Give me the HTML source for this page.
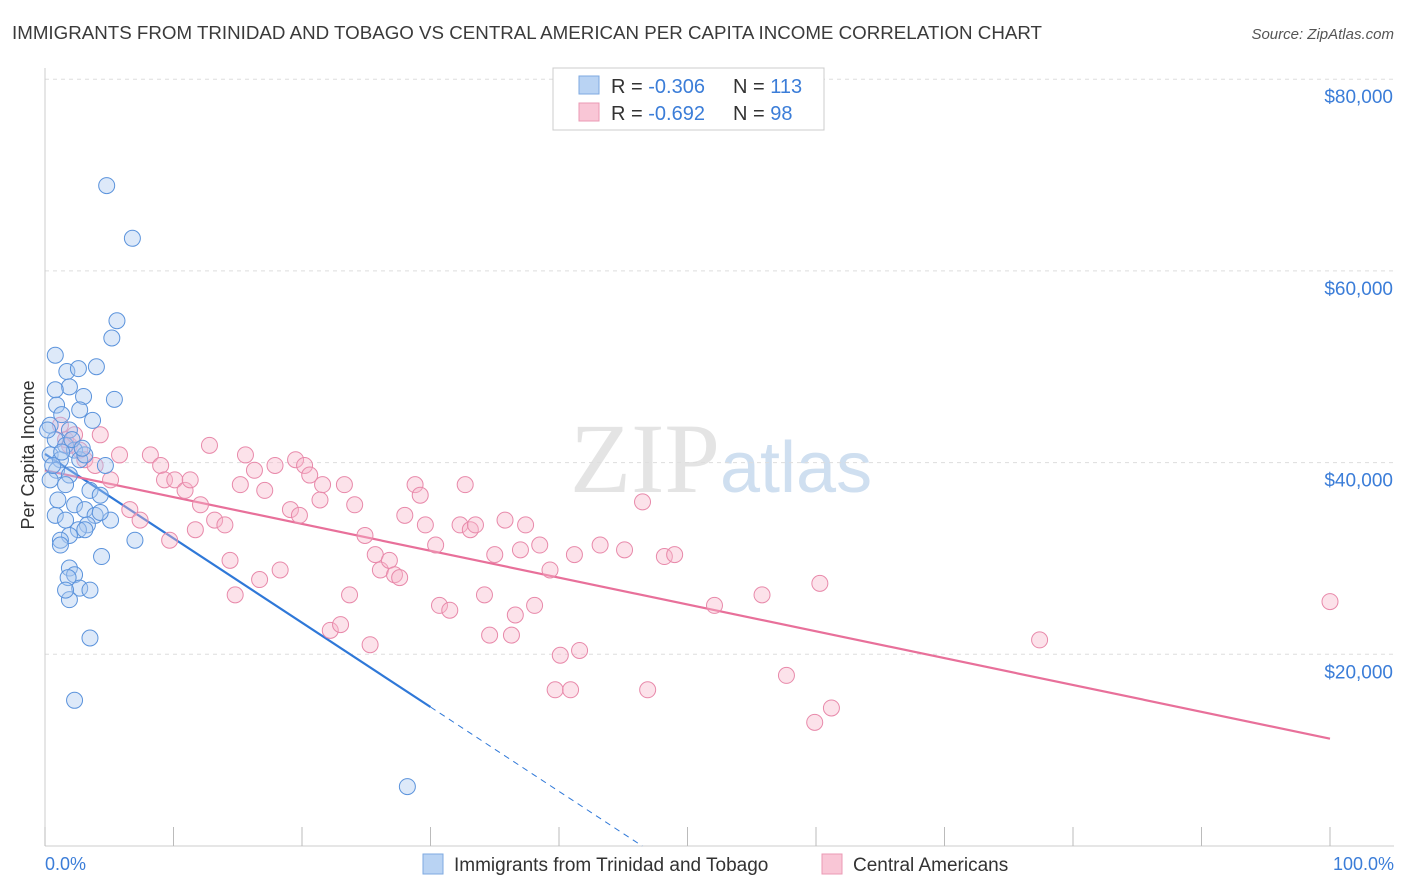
<!DOCTYPE html>
<html><head><meta charset="utf-8">
<style>
body{margin:0;background:#fff;font-family:"Liberation Sans",sans-serif;}
#wrap{position:relative;width:1406px;height:892px;overflow:hidden;}
</style></head>
<body>
<div id="wrap">
<svg id="chart" width="1406" height="892" xmlns="http://www.w3.org/2000/svg">
<text x="12" y="39" font-size="18" fill="#3a3a3a" textLength="1030" lengthAdjust="spacingAndGlyphs">IMMIGRANTS FROM TRINIDAD AND TOBAGO VS CENTRAL AMERICAN PER CAPITA INCOME CORRELATION CHART</text>
<text x="1394" y="39" font-size="15" fill="#555" font-style="italic" text-anchor="end">Source: ZipAtlas.com</text>
<text x="720" y="492" font-size="100" fill="#e4e4e4" text-anchor="end" font-family="Liberation Serif,serif">ZIP</text>
<text x="720" y="492" font-size="72" fill="#cfdff0">atlas</text>
<g id="grid"></g><g id="axes"></g><g id="trends"></g><g id="points"></g>
<text x="34" y="455" font-size="18" fill="#333" text-anchor="middle" transform="rotate(-90 34 455)">Per Capita Income</text>
<text x="45" y="870" font-size="18" fill="#3b7dd8">0.0%</text>
<text x="1394" y="870" font-size="18" fill="#3b7dd8" text-anchor="end">100.0%</text>
<g>
<rect x="553" y="68" width="271" height="62" fill="#fff" stroke="#ccc"/>
<rect x="579" y="76" width="20" height="18" fill="#b9d3f3" stroke="#7ea9e0"/>
<rect x="579" y="103" width="20" height="18" fill="#f9c6d6" stroke="#eb9ab4"/>
<text x="611" y="93" font-size="20" fill="#333">R = <tspan fill="#3b7dd8">-0.306</tspan><tspan x="733">N = </tspan><tspan fill="#3b7dd8">113</tspan></text>
<text x="611" y="120" font-size="20" fill="#333">R = <tspan fill="#3b7dd8">-0.692</tspan><tspan x="733">N = </tspan><tspan fill="#3b7dd8"> 98</tspan></text>
</g>
<g>
<rect x="423" y="854" width="20" height="20" fill="#b9d3f3" stroke="#7ea9e0"/>
<text x="454" y="871" font-size="19" fill="#333">Immigrants from Trinidad and Tobago</text>
<rect x="822" y="854" width="20" height="20" fill="#f9c6d6" stroke="#eb9ab4"/>
<text x="853" y="871" font-size="19" fill="#333">Central Americans</text>
</g>
</svg>
</div>
<script>
const yTicks=[20,40,60,80];
const yTickLabels=["$20,000","$40,000","$60,000","$80,000"];
const xTickVals=[0,10,20,30,40,50,60,70,80,90,100];
const blueX=[4.8,6.8,5.6,5.2,0.8,4.0,1.7,2.6,5.4,1.9,3.0,0.8,2.7,3.7,0.9,1.3,0.4,1.9,0.8,1.6,2.3,0.4,1.2,2.7,3.1,4.7,0.9,1.9,0.4,1.6,3.5,4.3,1.0,2.3,3.1,3.9,0.8,1.6,5.1,3.3,2.6,1.9,1.2,4.3,7.0,4.4,1.9,2.3,1.8,2.7,3.5,1.9,3.5,2.3,28.2,0.2,0.6,1.3,2.1,2.9,1.2,3.1,1.6];
const blueY=[68.9,63.4,54.8,53.0,51.2,50.0,49.5,49.8,46.6,47.9,46.9,47.6,45.5,44.4,46.0,45.0,43.9,43.4,42.4,41.8,41.3,40.8,40.3,40.3,40.8,39.7,39.2,38.7,38.2,37.7,37.1,36.6,36.1,35.6,35.1,34.5,34.5,34.0,34.0,33.5,33.0,32.4,31.9,34.8,31.9,30.2,29.0,28.3,28.0,26.9,26.7,25.7,21.7,15.2,6.2,43.4,39.7,41.1,42.4,41.5,31.4,33.0,26.7];
const pinkX=[1.2,1.6,1.9,2.3,2.7,3.1,3.9,4.3,5.1,5.8,6.6,7.4,8.2,9.0,9.3,9.7,10.1,10.9,11.3,11.7,12.1,12.8,13.2,14.0,14.4,14.8,15.2,15.6,16.3,16.7,17.1,17.9,18.3,19.1,19.5,19.8,20.2,20.6,21.4,21.6,22.2,23.0,23.3,23.7,24.1,24.9,25.3,25.7,26.1,26.8,27.2,27.6,28.0,28.8,29.2,29.6,30.4,30.7,31.5,32.3,32.7,33.1,33.5,34.2,34.6,35.0,35.8,36.3,36.6,37.0,37.4,38.1,38.5,39.3,39.7,40.1,40.9,41.2,41.6,43.2,45.1,46.5,46.9,48.2,49.0,52.1,55.8,57.7,59.9,60.3,61.2,77.4,100];
const pinkY=[43.9,42.4,41.8,42.9,41.3,40.3,39.7,42.9,38.2,40.8,35.1,34.0,40.8,39.7,38.2,31.9,38.2,37.1,38.2,33.0,35.6,41.8,34.0,33.5,29.8,26.2,37.7,40.8,39.2,27.8,37.1,39.7,28.8,35.1,40.3,34.5,39.7,38.7,36.1,37.7,22.5,23.1,37.7,26.2,35.6,32.4,21.0,30.4,28.8,29.8,28.3,28.0,34.5,37.7,36.6,33.5,31.4,25.1,24.6,33.5,37.7,33.0,33.5,26.2,22.0,30.4,34.0,22.0,24.1,30.9,33.5,25.1,31.4,28.8,16.3,19.9,16.3,30.4,20.4,31.4,30.9,35.9,16.3,30.2,30.4,25.1,26.2,17.8,12.9,27.4,14.4,21.5,25.5];
const blueTrend=[40.9,-0.88];
const pinkTrend=[39.2,-0.28];

const NS="http://www.w3.org/2000/svg";
const X=v=>45+v*12.85;
const Y=v=>846-v*9.585;
function mk(tag,attrs,parent){const e=document.createElementNS(NS,tag);for(const k in attrs)e.setAttribute(k,attrs[k]);parent.appendChild(e);return e;}
const grid=document.getElementById('grid'),axes=document.getElementById('axes'),trends=document.getElementById('trends'),pts=document.getElementById('points');
yTicks.forEach((t,i)=>{
 const l=mk('line',{x1:45,x2:1394,y1:Y(t),y2:Y(t),stroke:'#ddd','stroke-dasharray':'4 4'},grid);
 
 
 const tx=mk('text',{x:1393,y:Y(t)+24,'font-size':19,fill:'#3b7dd8','text-anchor':'end'},grid);
 tx.textContent=yTickLabels[i];
 
 
});
const ya=mk('line',{x1:45,x2:45,y1:68,y2:846,stroke:'#ccc'},axes);


const xa=mk('line',{x1:45,x2:1394,y1:846,y2:846,stroke:'#ccc'},axes);


xTickVals.forEach(v=>{
 const t=mk('line',{x1:X(v),x2:X(v),y1:827,y2:846,stroke:'#bbb'},axes);
 
 
});
function tl(tr,a,b,color,dash,name){
 const l=mk('line',{x1:X(a),y1:Y(tr[0]+tr[1]*a),x2:X(b),y2:Y(tr[0]+tr[1]*b),stroke:color,'stroke-width':dash?1:2.2},trends);
 if(dash)l.setAttribute('stroke-dasharray','6 5');
 
 
}
tl(blueTrend,0,30,'#2f78d8',false,'trinidad-trend-line');
tl(blueTrend,30,-blueTrend[0]/blueTrend[1],'#2f78d8',true,'trinidad-trend-extension');
tl(pinkTrend,0,100,'#e8709a',false,'central-trend-line');
function dots(xs,ys,fill,stroke,name){
 xs.forEach((x,i)=>{
  const c=mk('circle',{cx:X(x),cy:Y(ys[i]),r:8,fill:fill,'fill-opacity':0.4,stroke:stroke,'stroke-width':1},pts);
  
  
 });
}
dots(pinkX,pinkY,'#f7b6cb','#e889aa','central-american-point');
dots(blueX,blueY,'#a9c8f0','#5b93dc','trinidad-point');
</script>
</body></html>
